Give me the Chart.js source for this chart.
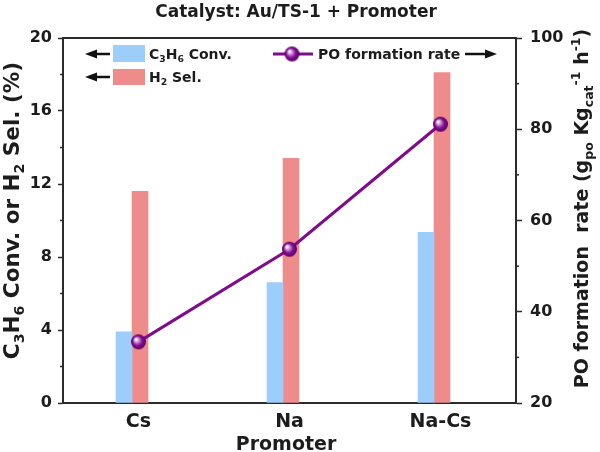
<!DOCTYPE html>
<html>
<head>
<meta charset="utf-8">
<script src="https://cdn.jsdelivr.net/npm/chart.js@4.4.1/dist/chart.umd.min.js"></script>
<style>
  html, body { margin: 0; padding: 0; background: #fff; }
</style>
</head>
<body>
<canvas id="chart" width="600" height="452"></canvas>
<script>
// ---------- data ----------
const promoters = ['Cs', 'Na', 'Na-Cs'];
const c3h6Conv = [3.9, 6.6, 9.35];     // %
const h2Sel = [11.6, 13.4, 18.1];      // %
const poRate = [33.4, 53.7, 81.1];     // g_po Kg_cat^-1 h^-1

const leftTicks = [0, 4, 8, 12, 16, 20];
const leftMinor = [2, 6, 10, 14, 18];
const rightTicks = [20, 40, 60, 80, 100];
const rightMinor = [30, 50, 70, 90];

const titleText = 'Catalyst: Au/TS-1 + Promoter';
const xTitle = 'Promoter';
// rich text pieces: [text, '' | 'sub' | 'sup']
const leftTitle = [['C', ''], ['3', 'sub'], ['H', ''], ['6', 'sub'], [' Conv. or H', ''], ['2', 'sub'], [' Sel. (%)', '']];
const rightTitle = [['PO formation  rate (g', ''], ['po', 'sub'], [' Kg', ''], ['cat', 'sub'], ['-1', 'sup'], [' h', ''], ['-1', 'sup'], [')', '']];
const convLabel = [['C', ''], ['3', 'sub'], ['H', ''], ['6', 'sub'], [' Conv.', '']];
const selLabel = [['H', ''], ['2', 'sub'], [' Sel.', '']];
const rateLabel = [['PO formation rate', '']];

// ---------- style ----------
const FONT = "'DejaVu Sans', 'Liberation Sans', Arial, sans-serif";
const BLUE = '#9ccdfb';
const RED = '#ee8b8b';
const PURPLE = '#7e0c8b';
const AXIS = '#2b2b2b';
const TEXT = '#1c1c1c';

// shaded ball marker for the PO line
function makeMarker(r) {
  const c = document.createElement('canvas');
  const s = Math.ceil(r * 2 + 2);
  c.width = c.height = s;
  const g = c.getContext('2d');
  const grad = g.createRadialGradient(s / 2 - r * 0.35, s / 2 - r * 0.35, 0.5, s / 2, s / 2, r);
  grad.addColorStop(0, '#ffffff');
  grad.addColorStop(0.28, '#c98bd2');
  grad.addColorStop(0.6, '#850f92');
  grad.addColorStop(1, '#5a0065');
  g.fillStyle = grad;
  g.beginPath();
  g.arc(s / 2, s / 2, r, 0, Math.PI * 2);
  g.fill();
  return c;
}
const marker = makeMarker(7.5);

// ---------- text helpers ----------
function richWidth(ctx, parts, size) {
  let w = 0;
  parts.forEach(([t, k]) => {
    ctx.font = `bold ${k ? size * 0.66 : size}px ${FONT}`;
    w += ctx.measureText(t).width;
  });
  return w;
}

function drawRich(ctx, parts, x, y, size) {
  let cx = x;
  parts.forEach(([t, k]) => {
    const fs = k ? size * 0.66 : size;
    ctx.font = `bold ${fs}px ${FONT}`;
    const dy = k === 'sub' ? size * 0.24 : k === 'sup' ? -size * 0.42 : 0;
    ctx.fillText(t, cx, y + dy);
    cx += ctx.measureText(t).width;
  });
}

function drawArrow(ctx, x0, x1, y) {
  const dir = Math.sign(x1 - x0);
  ctx.strokeStyle = '#111';
  ctx.fillStyle = '#111';
  ctx.lineWidth = 2.5;
  ctx.beginPath();
  ctx.moveTo(x0, y);
  ctx.lineTo(x1 - dir * 8, y);
  ctx.stroke();
  ctx.beginPath();
  ctx.moveTo(x1, y);
  ctx.lineTo(x1 - dir * 12, y - 4.5);
  ctx.lineTo(x1 - dir * 12, y + 4.5);
  ctx.closePath();
  ctx.fill();
}

// ---------- plugin: frame, minor ticks, titles, legend ----------
const decor = {
  id: 'decor',
  afterDraw(chart) {
    const ctx = chart.ctx;
    const a = chart.chartArea;
    const yL = chart.scales.y;
    const yR = chart.scales.y1;
    ctx.save();

    // top frame line
    ctx.strokeStyle = AXIS;
    ctx.lineWidth = 2;
    ctx.beginPath();
    ctx.moveTo(a.left - 1, a.top);
    ctx.lineTo(a.right + 1, a.top);
    ctx.stroke();

    // minor ticks
    ctx.lineWidth = 1.5;
    leftMinor.forEach(v => {
      const py = yL.getPixelForValue(v);
      ctx.beginPath(); ctx.moveTo(a.left - 3, py); ctx.lineTo(a.left, py); ctx.stroke();
    });
    rightMinor.forEach(v => {
      const py = yR.getPixelForValue(v);
      ctx.beginPath(); ctx.moveTo(a.right, py); ctx.lineTo(a.right + 3, py); ctx.stroke();
    });

    ctx.fillStyle = TEXT;
    ctx.textBaseline = 'alphabetic';

    // chart title
    ctx.textAlign = 'center';
    ctx.font = `bold 17px ${FONT}`;
    ctx.fillText(titleText, 296, 17);

    // x axis title
    ctx.font = `bold 19px ${FONT}`;
    ctx.fillText(xTitle, 286, 450);

    // rotated y titles
    ctx.textAlign = 'left';
    const midY = (a.top + a.bottom) / 2;
    const lw = richWidth(ctx, leftTitle, 21.5);
    ctx.save();
    ctx.translate(19, midY - 10);
    ctx.rotate(-Math.PI / 2);
    drawRich(ctx, leftTitle, -lw / 2, 0, 21.5);
    ctx.restore();

    const rw = richWidth(ctx, rightTitle, 19);
    ctx.save();
    ctx.translate(588, midY - 12);
    ctx.rotate(-Math.PI / 2);
    drawRich(ctx, rightTitle, -rw / 2, 0, 19);
    ctx.restore();

    // legend
    drawArrow(ctx, 110, 85, 54);
    ctx.fillStyle = BLUE;
    ctx.fillRect(113, 45, 32, 17);
    ctx.fillStyle = TEXT;
    drawRich(ctx, convLabel, 149, 59, 14);

    drawArrow(ctx, 110, 85, 77);
    ctx.fillStyle = RED;
    ctx.fillRect(113, 69, 32, 16);
    ctx.fillStyle = TEXT;
    drawRich(ctx, selLabel, 149, 82, 14);

    ctx.strokeStyle = PURPLE;
    ctx.lineWidth = 3;
    ctx.beginPath(); ctx.moveTo(273, 54); ctx.lineTo(313, 54); ctx.stroke();
    ctx.drawImage(marker, 292 - marker.width / 2, 54 - marker.height / 2);
    ctx.fillStyle = TEXT;
    drawRich(ctx, rateLabel, 318, 59, 14);
    drawArrow(ctx, 465, 497, 54);

    ctx.restore();
  }
};

// ---------- chart ----------
const tickFont = { family: FONT, size: 16, weight: 'bold' };

new Chart(document.getElementById('chart'), {
  type: 'bar',
  data: {
    labels: promoters,
    datasets: [
      {
        type: 'line',
        label: 'PO formation rate',
        data: poRate,
        xAxisID: 'x',
        yAxisID: 'y1',
        borderColor: PURPLE,
        borderWidth: 3,
        pointStyle: marker,
        pointRadius: 7.5,
        tension: 0,
        order: 0
      },
      {
        label: 'C3H6 Conv.',
        data: c3h6Conv.map((v, i) => ({ x: i, y: v })),
        xAxisID: 'xb',
        yAxisID: 'y',
        backgroundColor: BLUE,
        barThickness: 16,
        order: 2
      },
      {
        label: 'H2 Sel.',
        data: h2Sel.map((v, i) => ({ x: i, y: v })),
        xAxisID: 'xb',
        yAxisID: 'y',
        backgroundColor: RED,
        barThickness: 16,
        order: 3
      }
    ]
  },
  options: {
    responsive: false,
    devicePixelRatio: 1,
    animation: false,
    layout: { padding: { top: 38, left: 0, right: 0, bottom: 0 } },
    plugins: {
      legend: { display: false },
      tooltip: { enabled: false }
    },
    scales: {
      x: {
        type: 'category',
        offset: true,
        grid: { display: false },
        border: { color: AXIS, width: 2 },
        ticks: { color: TEXT, font: { family: FONT, size: 19, weight: 'bold' }, padding: 0 },
        afterFit: s => { s.height = 49; }
      },
      xb: {
        type: 'linear',
        display: false,
        offset: false,
        grid: { offset: false },
        min: -0.457,
        max: 2.543
      },
      y: {
        position: 'left',
        min: 0,
        max: 20,
        afterBuildTicks: s => { s.ticks = leftTicks.map(v => ({ value: v })); },
        grid: { drawOnChartArea: false, tickLength: 5, tickColor: AXIS, tickWidth: 1.5 },
        border: { color: AXIS, width: 2 },
        ticks: { color: TEXT, font: tickFont, padding: 6 },
        afterFit: s => { s.width = 63; }
      },
      y1: {
        position: 'right',
        min: 20,
        max: 100,
        afterBuildTicks: s => { s.ticks = rightTicks.map(v => ({ value: v })); },
        grid: { drawOnChartArea: false, tickLength: 6, tickColor: AXIS, tickWidth: 1.5 },
        border: { color: AXIS, width: 2 },
        ticks: { color: TEXT, font: tickFont, padding: 8 },
        afterFit: s => { s.width = 84; }
      }
    }
  },
  plugins: [decor]
});
</script>
</body>
</html>
